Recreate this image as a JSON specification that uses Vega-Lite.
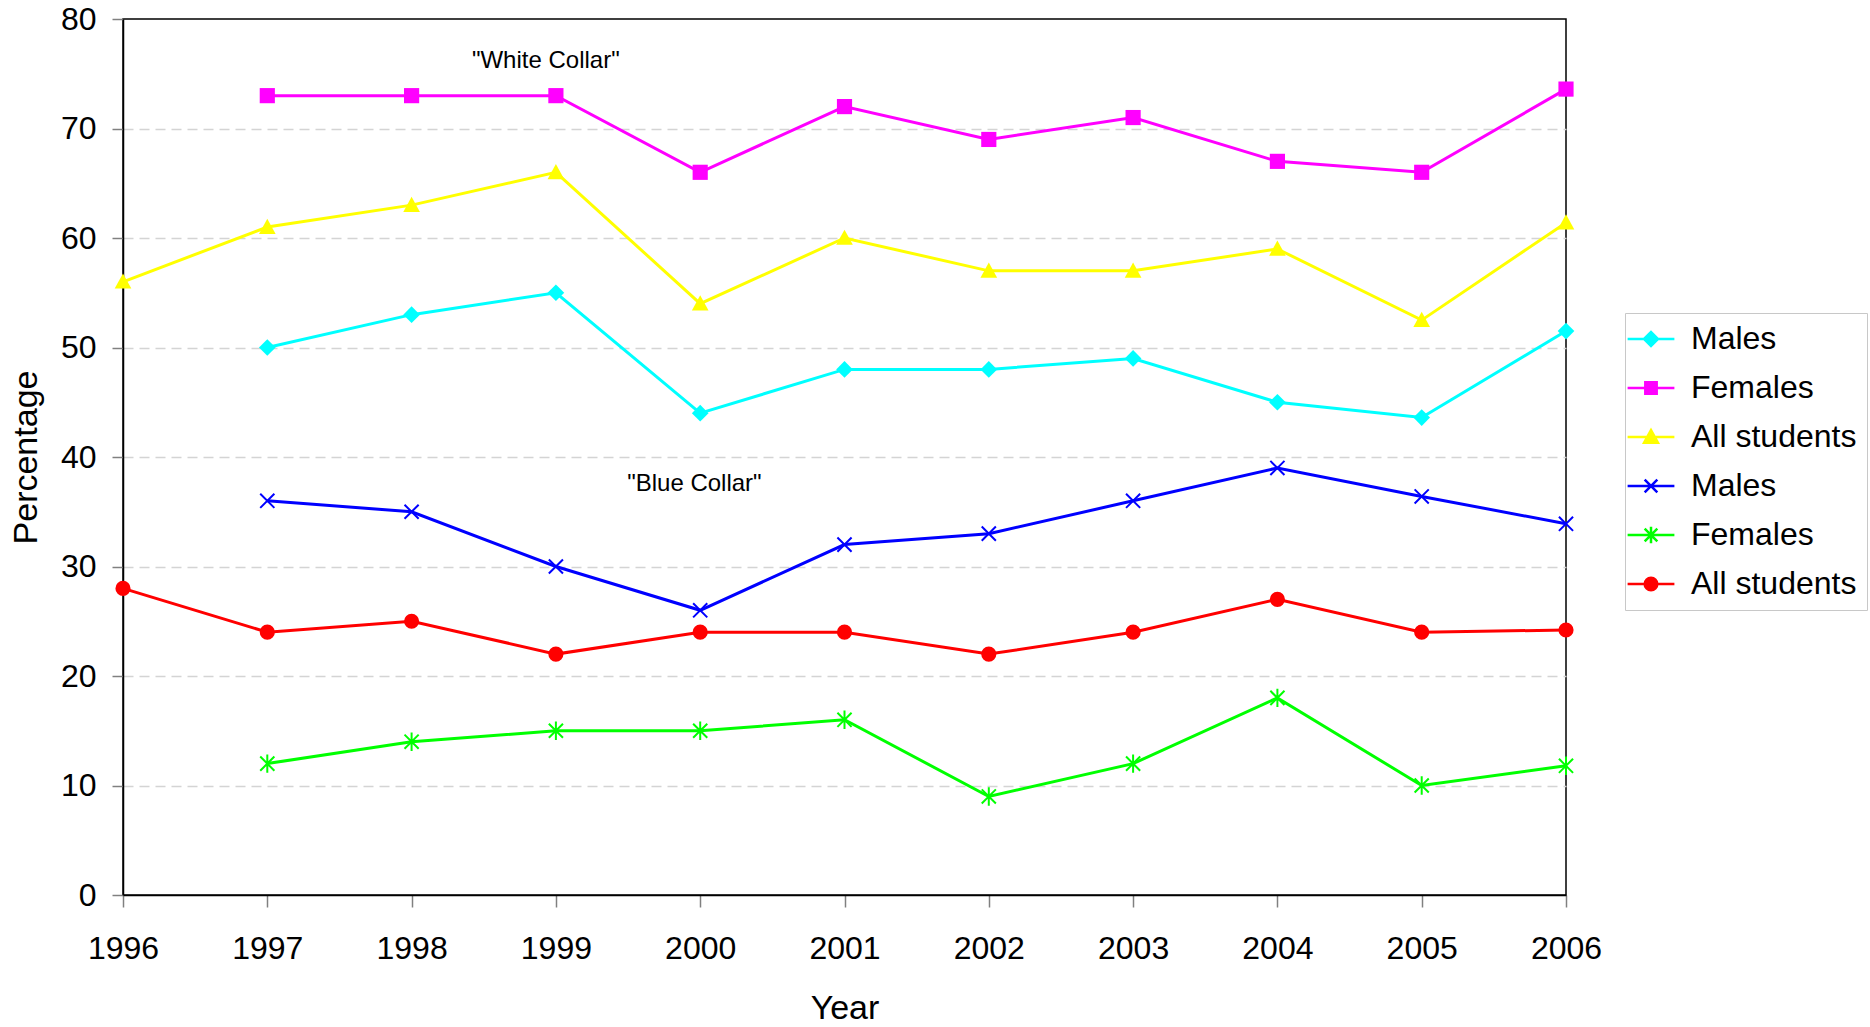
{
  "$schema": "https://vega.github.io/schema/vega-lite/v6.json",
  "width": 1443,
  "height": 876,
  "autosize": "none",
  "padding": {"left": 123, "top": 19, "right": 304, "bottom": 132},
  "background": "white",
  "config": {
    "font": "Liberation Sans",
    "view": {"stroke": "black", "strokeWidth": 1.5},
    "axis": {"labelFont": "Liberation Sans", "titleFont": "Liberation Sans", "labelColor": "black", "titleColor": "black", "titleFontWeight": "normal", "domainColor": "black", "domainWidth": 1.5, "tickColor": "#808080", "tickWidth": 1.5}
  },
  "datasets": {
    "main": [
      {"year": 1997, "value": 50, "series": "W Males"},
      {"year": 1998, "value": 53, "series": "W Males"},
      {"year": 1999, "value": 55, "series": "W Males"},
      {"year": 2000, "value": 44, "series": "W Males"},
      {"year": 2001, "value": 48, "series": "W Males"},
      {"year": 2002, "value": 48, "series": "W Males"},
      {"year": 2003, "value": 49, "series": "W Males"},
      {"year": 2004, "value": 45, "series": "W Males"},
      {"year": 2005, "value": 43.6, "series": "W Males"},
      {"year": 2006, "value": 51.5, "series": "W Males"},
      {"year": 1997, "value": 73, "series": "W Females"},
      {"year": 1998, "value": 73, "series": "W Females"},
      {"year": 1999, "value": 73, "series": "W Females"},
      {"year": 2000, "value": 66, "series": "W Females"},
      {"year": 2001, "value": 72, "series": "W Females"},
      {"year": 2002, "value": 69, "series": "W Females"},
      {"year": 2003, "value": 71, "series": "W Females"},
      {"year": 2004, "value": 67, "series": "W Females"},
      {"year": 2005, "value": 66, "series": "W Females"},
      {"year": 2006, "value": 73.6, "series": "W Females"},
      {"year": 1996, "value": 56, "series": "W All students"},
      {"year": 1997, "value": 61, "series": "W All students"},
      {"year": 1998, "value": 63, "series": "W All students"},
      {"year": 1999, "value": 66, "series": "W All students"},
      {"year": 2000, "value": 54, "series": "W All students"},
      {"year": 2001, "value": 60, "series": "W All students"},
      {"year": 2002, "value": 57, "series": "W All students"},
      {"year": 2003, "value": 57, "series": "W All students"},
      {"year": 2004, "value": 59, "series": "W All students"},
      {"year": 2005, "value": 52.5, "series": "W All students"},
      {"year": 2006, "value": 61.4, "series": "W All students"},
      {"year": 1997, "value": 36, "series": "B Males"},
      {"year": 1998, "value": 35, "series": "B Males"},
      {"year": 1999, "value": 30, "series": "B Males"},
      {"year": 2000, "value": 26, "series": "B Males"},
      {"year": 2001, "value": 32, "series": "B Males"},
      {"year": 2002, "value": 33, "series": "B Males"},
      {"year": 2003, "value": 36, "series": "B Males"},
      {"year": 2004, "value": 39, "series": "B Males"},
      {"year": 2005, "value": 36.4, "series": "B Males"},
      {"year": 2006, "value": 33.9, "series": "B Males"},
      {"year": 1997, "value": 12, "series": "B Females"},
      {"year": 1998, "value": 14, "series": "B Females"},
      {"year": 1999, "value": 15, "series": "B Females"},
      {"year": 2000, "value": 15, "series": "B Females"},
      {"year": 2001, "value": 16, "series": "B Females"},
      {"year": 2002, "value": 9, "series": "B Females"},
      {"year": 2003, "value": 12, "series": "B Females"},
      {"year": 2004, "value": 18, "series": "B Females"},
      {"year": 2005, "value": 10, "series": "B Females"},
      {"year": 2006, "value": 11.8, "series": "B Females"},
      {"year": 1996, "value": 28, "series": "B All students"},
      {"year": 1997, "value": 24, "series": "B All students"},
      {"year": 1998, "value": 25, "series": "B All students"},
      {"year": 1999, "value": 22, "series": "B All students"},
      {"year": 2000, "value": 24, "series": "B All students"},
      {"year": 2001, "value": 24, "series": "B All students"},
      {"year": 2002, "value": 22, "series": "B All students"},
      {"year": 2003, "value": 24, "series": "B All students"},
      {"year": 2004, "value": 27, "series": "B All students"},
      {"year": 2005, "value": 24, "series": "B All students"},
      {"year": 2006, "value": 24.2, "series": "B All students"}
    ],
    "notes": [
      {"year": 1998.93, "value": 76.2, "text": "\"White Collar\""},
      {"year": 1999.96, "value": 37.5, "text": "\"Blue Collar\""}
    ]
  },
  "encoding": {
    "x": {
      "field": "year", "type": "quantitative",
      "scale": {"domain": [1996, 2006], "nice": false, "zero": false},
      "axis": {"title": "Year", "values": [1996, 1997, 1998, 1999, 2000, 2001, 2002, 2003, 2004, 2005, 2006], "format": "d", "grid": false, "labelFontSize": 32, "titleFontSize": 34, "tickSize": 12, "labelPadding": 26, "titleY": 113, "titleBaseline": "middle", "labelFlush": false}
    },
    "y": {
      "field": "value", "type": "quantitative",
      "scale": {"domain": [0, 80], "nice": false},
      "axis": {"title": "Percentage", "values": [0, 10, 20, 30, 40, 50, 60, 70, 80], "grid": true, "gridColor": "#d4d4d4", "gridDash": [10, 6], "gridWidth": 1.5,
        "gridOpacity": {"condition": {"test": "datum.value === 80 || datum.value === 0", "value": 0}, "value": 1},
        "labelFontSize": 32, "titleFontSize": 34, "tickSize": 11, "labelPadding": 16, "titleX": -97, "titleBaseline": "middle"}
    },
    "color": {
      "field": "series", "type": "nominal",
      "scale": {"domain": ["W Males", "W Females", "W All students", "B Males", "B Females", "B All students"], "range": ["#00ffff", "#ff00ff", "#ffff00", "#0000ff", "#00ff00", "#ff0000"]},
      "legend": {
        "title": null, "orient": "none", "legendX": 1502, "legendY": 294,
        "labelExpr": "slice(datum.label, 2)", "labelLimit": 400,
        "labelFontSize": 32, "labelFont": "Liberation Sans", "labelColor": "black",
        "symbolSize": 160, "labelOffset": 24, "rowPadding": 17,
        "padding": 10, "strokeColor": "#c8c8c8", "fillColor": "white",
        "encode": {"symbols": {"update": {
          "shape": {"signal": "datum.value==='W Males' ? 'M-3.7,0H3.7M-1.1,0L0,-1.1L1.1,0L0,1.1Z' : datum.value==='W Females' ? 'M-3.7,0H3.7M-0.9,-0.9H0.9V0.9H-0.9Z' : datum.value==='W All students' ? 'M-3.7,0H3.7M0,-1.1L1.1,0.9H-1.1Z' : datum.value==='B Males' ? 'M-3.7,0H3.7M-1,-1L1,1M-1,1L1,-1' : datum.value==='B Females' ? 'M-3.7,0H3.7M-1,-1L1,1M-1,1L1,-1M0,-1.3V1.3' : 'M-3.7,0H3.7M-1,0A1,1 0 1,0 1,0A1,1 0 1,0 -1,0Z'"},
          "fill": {"signal": "(datum.value==='B Males' || datum.value==='B Females') ? 'transparent' : scale('color', datum.value)"},
          "stroke": {"signal": "scale('color', datum.value)"},
          "strokeWidth": {"value": 2.5},
          "opacity": {"value": 1}
        }}}
      }
    }
  },
  "layer": [
    {
      "data": {"name": "main"},
      "mark": {"type": "line", "strokeWidth": 3},
      "encoding": {"detail": {"field": "series"}}
    },
    {
      "data": {"name": "main"},
      "transform": [{"filter": "datum.series === 'W Males'"}],
      "mark": {"type": "point", "filled": true, "opacity": 1, "size": 230, "shape": "M-1.1,0L0,-1.1L1.1,0L0,1.1Z"}
    },
    {
      "data": {"name": "main"},
      "transform": [{"filter": "datum.series === 'W Females'"}],
      "mark": {"type": "point", "filled": true, "opacity": 1, "size": 230, "shape": "square"}
    },
    {
      "data": {"name": "main"},
      "transform": [{"filter": "datum.series === 'W All students'"}],
      "mark": {"type": "point", "filled": true, "opacity": 1, "size": 230, "shape": "M0,-1.1L1.1,0.9H-1.1Z"}
    },
    {
      "data": {"name": "main"},
      "transform": [{"filter": "datum.series === 'B All students'"}],
      "mark": {"type": "point", "filled": true, "opacity": 1, "size": 230, "shape": "circle"}
    },
    {
      "data": {"name": "main"},
      "transform": [{"filter": "datum.series === 'B Males'"}],
      "mark": {"type": "point", "filled": false, "opacity": 1, "size": 200, "strokeWidth": 2, "shape": "M-1,-1L1,1M-1,1L1,-1"}
    },
    {
      "data": {"name": "main"},
      "transform": [{"filter": "datum.series === 'B Females'"}],
      "mark": {"type": "point", "filled": false, "opacity": 1, "size": 200, "strokeWidth": 2, "shape": "M-1,-1L1,1M-1,1L1,-1M0,-1.3V1.3"}
    },
    {
      "data": {"name": "notes"},
      "mark": {"type": "text", "fontSize": 24, "font": "Liberation Sans", "color": "black"},
      "encoding": {"text": {"field": "text"}, "color": {"value": "black"}}
    }
  ]
}
